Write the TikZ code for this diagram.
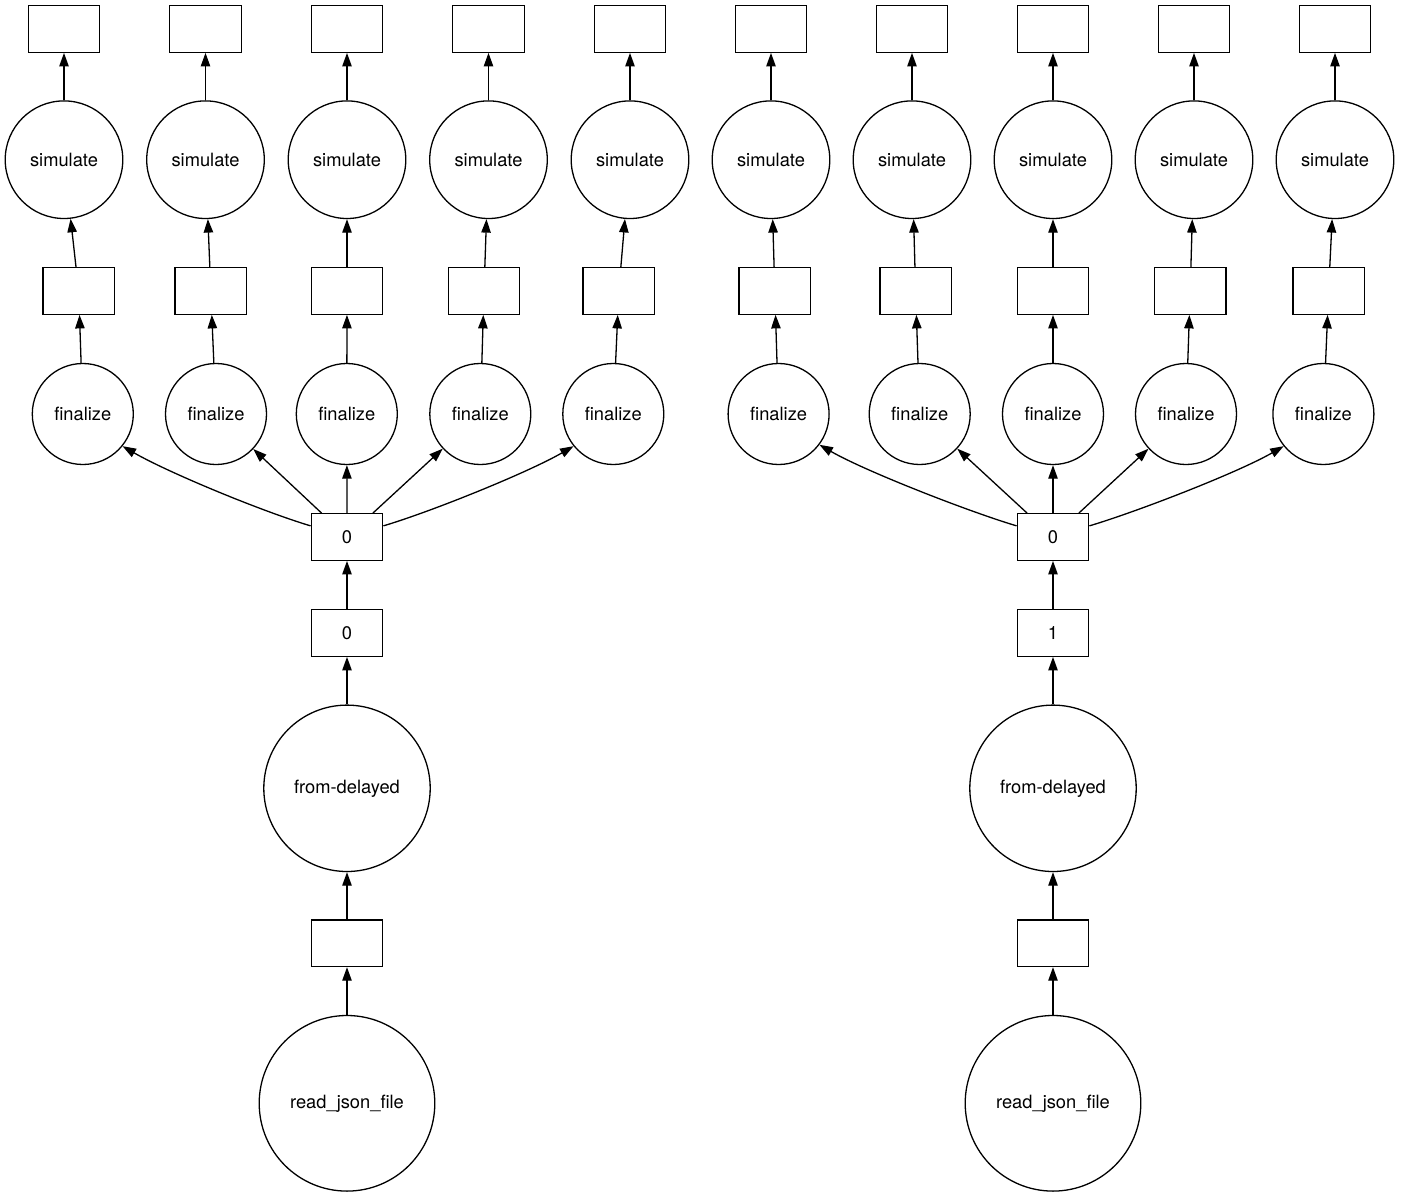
\documentclass[tikz,border=0pt]{standalone}
\usepackage{fontspec}
\setmainfont{TeX Gyre Heros}
\usetikzlibrary{arrows.meta}
\begin{document}
\begin{tikzpicture}[x=1pt,y=-1pt,
  every node/.style={font=\fontsize{18.3}{22}\selectfont, text=black},
  boxnode/.style={draw, rectangle, line width=1.3pt, minimum width=71.5pt, minimum height=46.5pt, inner sep=0pt},
  simnode/.style={draw, circle, line width=1.3pt, minimum size=117.6pt, inner sep=0pt},
  finnode/.style={draw, circle, line width=1.3pt, minimum size=101pt, inner sep=0pt},
  fdnode/.style={draw, circle, line width=1.3pt, minimum size=166.4pt, inner sep=0pt},
  rjnode/.style={draw, circle, line width=1.3pt, minimum size=175.6pt, inner sep=0pt},
  arr/.style={line width=1.3pt, -{Triangle[length=13.5pt,width=9.4pt]}}]
\fill[white] (0,0) rectangle (1401,1196);
\useasboundingbox (0,0) rectangle (1401,1196);

% ---------- left graph ----------
\foreach \i/\xa/\xb/\xc in {1/64/78.7/82.8, 2/205.5/210.8/216, 3/347/347/346.8, 4/488.5/484/480.3, 5/630/618.8/613.3} {
  \node[boxnode] (Lt\i) at (\xa,29) {};
  \node[simnode] (Ls\i) at (\xa,159.7) {simulate};
  \node[boxnode] (Lb\i) at (\xb,291) {};
  \node[finnode] (Lf\i) at (\xc,414) {finalize};
  \draw[arr] (Ls\i) -- (Lt\i);
  \draw[arr] (Lb\i) -- (Ls\i);
  \draw[arr] (Lf\i) -- (Lb\i);
}
\node[boxnode] (Lz) at (347,537) {0};
\node[boxnode] (Lk) at (347,633) {0};
\node[fdnode] (Ld) at (347,788.3) {from-delayed};
\node[boxnode] (Le) at (347,943.3) {};
\node[rjnode] (Lr) at (347,1103.3) {read\_json\_file};
\draw[arr] (Lz.163) .. controls +(-50,-15) and +(45,26) .. (Lf1.-39);
\draw[arr] (Lz) -- (Lf2);
\draw[arr] (Lz) -- (Lf3);
\draw[arr] (Lz) -- (Lf4);
\draw[arr] (Lz.17) .. controls +(50,-15) and +(-45,26) .. (Lf5.219);
\draw[arr] (Lk) -- (Lz);
\draw[arr] (Ld) -- (Lk);
\draw[arr] (Le) -- (Ld);
\draw[arr] (Lr) -- (Le);

% ---------- right graph ----------
\foreach \i/\xa/\xb/\xc in {1/771/774.8/778.6, 2/912/915.6/919.7, 3/1053/1053/1053, 4/1194/1190.2/1186, 5/1335/1328.6/1323.4} {
  \node[boxnode] (Rt\i) at (\xa,29) {};
  \node[simnode] (Rs\i) at (\xa,159.7) {simulate};
  \node[boxnode] (Rb\i) at (\xb,291) {};
  \node[finnode] (Rf\i) at (\xc,414) {finalize};
  \draw[arr] (Rs\i) -- (Rt\i);
  \draw[arr] (Rb\i) -- (Rs\i);
  \draw[arr] (Rf\i) -- (Rb\i);
}
\node[boxnode] (Rz) at (1053,537) {0};
\node[boxnode] (Rk) at (1053,633) {1};
\node[fdnode] (Rd) at (1053,788.3) {from-delayed};
\node[boxnode] (Re) at (1053,943.3) {};
\node[rjnode] (Rr) at (1053,1103.3) {read\_json\_file};
\draw[arr] (Rz.163) .. controls +(-50,-15) and +(45,26) .. (Rf1.-37);
\draw[arr] (Rz) -- (Rf2);
\draw[arr] (Rz) -- (Rf3);
\draw[arr] (Rz) -- (Rf4);
\draw[arr] (Rz.17) .. controls +(50,-15) and +(-45,26) .. (Rf5.219);
\draw[arr] (Rk) -- (Rz);
\draw[arr] (Rd) -- (Rk);
\draw[arr] (Re) -- (Rd);
\draw[arr] (Rr) -- (Re);
\end{tikzpicture}
\end{document}
